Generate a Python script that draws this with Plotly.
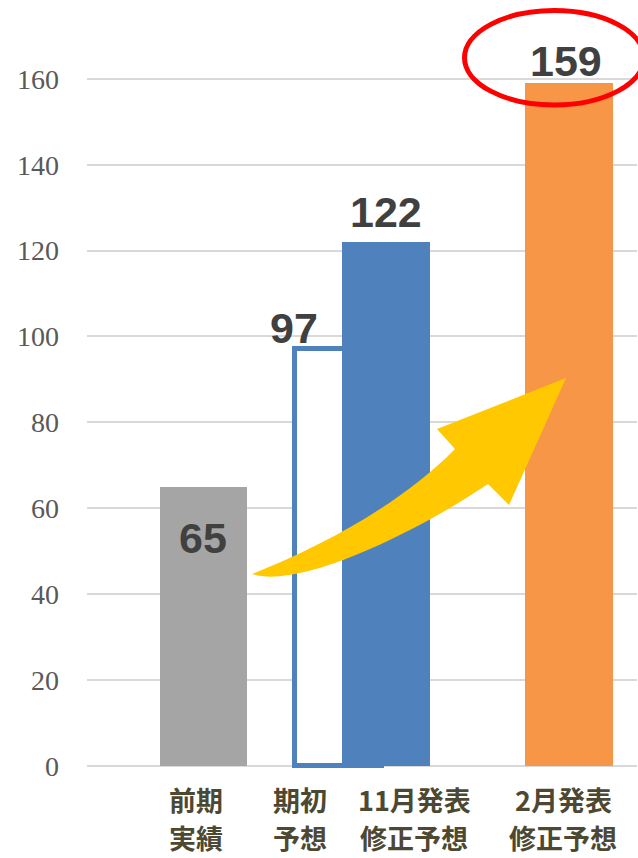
import plotly.graph_objects as go

# ---- data ----
categories = [["前期", "実績"], ["期初", "予想"], ["11月発表", "修正予想"], ["2月発表", "修正予想"]]
values = [65, 97, 122, 159]
y_ticks = [0, 20, 40, 60, 80, 100, 120, 140, 160]

# ---- layout helpers (x axis in pixel-like units) ----
bar_x = [116, 251, 299, 482]          # bar centres
bar_w = [87, 87, 88, 88]
label_x = [109, 213, 327, 476]         # category label centres
PXU = 4.29375                          # px per unit on y
Y0 = 765.85                            # pixel y of value 0

def X(px):
    return px - 87

def Y(py):
    return (Y0 - py) / PXU

xp = lambda px: (px - 87) / 550
yp = lambda py: (768 - py) / 753

fig = go.Figure()

# gray - previous actual
fig.add_trace(go.Bar(x=[bar_x[0]], y=[values[0]], width=[bar_w[0]],
                     marker=dict(color="#a5a5a5", line=dict(width=0))))
# outline - initial forecast
fig.add_trace(go.Bar(x=[bar_x[1]], y=[values[1]], width=[bar_w[1]],
                     marker=dict(color="rgba(255,255,255,1)", line=dict(color="#4f81bd", width=5))))
# blue - Nov revision
fig.add_trace(go.Bar(x=[bar_x[2]], y=[values[2]], width=[bar_w[2]],
                     marker=dict(color="#4f81bd", line=dict(width=0))))
# orange - Feb revision
fig.add_trace(go.Bar(x=[bar_x[3]], y=[values[3]], width=[bar_w[3]],
                     marker=dict(color="#f79646", line=dict(width=0))))

# value labels
val_font = dict(family="Liberation Sans, Arial", size=43, color="#404040")
offsets = [(0, -51), (-44, 21), (0, 30), (-3, 22)]
for i, v in enumerate(values):
    fig.add_annotation(x=bar_x[i], y=v, xref="x", yref="y", text=f"<b>{v}</b>",
                       showarrow=False, font=val_font, xanchor="center", yanchor="middle",
                       xshift=offsets[i][0], yshift=offsets[i][1])

# category labels (two lines each)
cat_font = dict(family="Noto Sans CJK JP", size=27, color="#4d4832")
line_y = [799, 838]                    # pixel centres of the two lines
for i, lines in enumerate(categories):
    for j, t in enumerate(lines):
        fig.add_annotation(x=label_x[i], y=yp(line_y[j]), xref="x", yref="paper",
                           text=f"<b>{t}</b>", showarrow=False, font=cat_font,
                           xanchor="center", yanchor="middle")

# yellow curved arrow (decoration)
P = lambda px, py: f"{X(px):.2f},{Y(py):.3f}"
arrow_path = (
    f"M {P(252,574)} "
    f"C {P(320,547)} {P(400,505)} {P(455,449)} "
    f"L {P(437,429)} L {P(566,378)} L {P(509,505)} L {P(488,484)} "
    f"C {P(420,530)} {P(300,590)} {P(252,574)} Z"
)
fig.add_shape(type="path", path=arrow_path, xref="x", yref="y",
              fillcolor="#ffc800", line=dict(width=0), layer="above")

# red ellipse (decoration)
fig.add_shape(type="circle", xref="paper", yref="paper",
              x0=xp(464.5), x1=xp(644), y0=yp(105), y1=yp(10.5),
              line=dict(color="#ff0000", width=5), fillcolor="rgba(0,0,0,0)", layer="above")

fig.update_layout(
    width=638, height=858,
    margin=dict(l=87, r=1, t=15, b=90),
    paper_bgcolor="white", plot_bgcolor="white",
    barmode="overlay", bargap=0,
    showlegend=False,
    xaxis=dict(range=[0, 550], showgrid=False, zeroline=False, showline=False,
               showticklabels=False, ticks=""),
    yaxis=dict(range=[-0.5, -0.5 + 753 / PXU], tickmode="array", tickvals=y_ticks,
               showgrid=True, gridcolor="#d9d9d9", gridwidth=1.5,
               zeroline=True, zerolinecolor="#d9d9d9", zerolinewidth=1.5,
               showline=False, ticks="", ticklabelstandoff=27,
               tickfont=dict(family="Liberation Serif, Times New Roman", size=28, color="#595959")),
)

fig.write_html("out.html")
